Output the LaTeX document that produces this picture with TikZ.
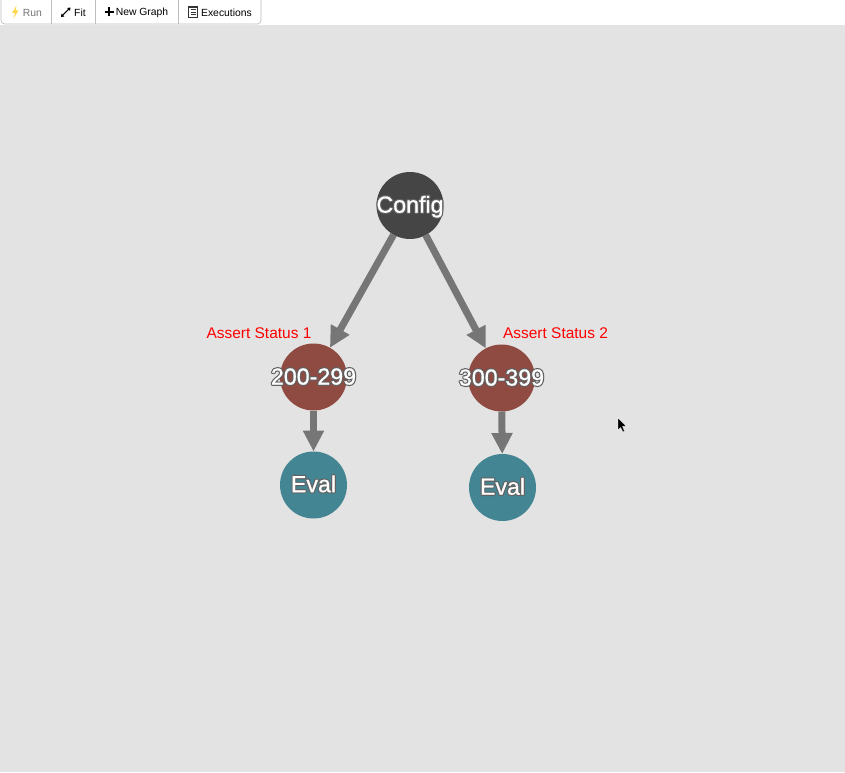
\documentclass[tikz,border=0pt]{standalone}
\usepackage{fontspec}
\setmainfont{Liberation Sans}
\usetikzlibrary{arrows.meta}
\definecolor{bgcol}{HTML}{E3E3E3}
\definecolor{cfgcol}{HTML}{454545}
\definecolor{statcol}{HTML}{8F4A42}
\definecolor{evalcol}{HTML}{438593}
\definecolor{edgecol}{HTML}{767676}
\definecolor{barcol}{HTML}{BDBDBD}
\newcommand{\halo}[1]{\makebox[0pt][c]{\rlap{\special{pdf:code q 1 Tr 1 j 1.5 w 0.38 0.38 0.38 RG}#1\special{pdf:code Q}}\special{pdf:code q 2 Tr 1 j 0.12 w 1 1 1 RG 1 1 1 rg}#1\special{pdf:code Q}}}
\tikzset{
 vertex/.style={circle,minimum size=1.34cm,inner sep=0pt,outer sep=0pt,font=\fontsize{13.2}{15}\selectfont},
 link/.style={draw=edgecol,line width=0.14cm,-{Triangle[length=0.42cm,width=0.4cm]}},
 tag/.style={text=red,font=\fontsize{8.8}{10}\selectfont},
 btn/.style={minimum height=0.46cm,inner sep=0pt,outer sep=0pt,font=\fontsize{5.9}{7}\selectfont}
}
\begin{document}
\begin{tikzpicture}
 \useasboundingbox (0,0) rectangle (16.9,15.44);
 \fill [bgcol] (0,0) rectangle (16.9,15.44);
 \fill [white] (0,14.94) rectangle (16.9,15.44);
 % toolbar
 \node [btn,text=black!55] at (0.65,15.18)(run){Run};
 \node [btn] at (1.6,15.18)(fit){Fit};
 \node [btn] at (2.84,15.18)(newgraph){New Graph};
 \node [btn] at (4.53,15.18)(executions){Executions};
 \coordinate (sep1t) at (1.02,15.44);
 \coordinate (sep1b) at (1.02,14.96);
 \coordinate (sep2t) at (1.9,15.44);
 \coordinate (sep2b) at (1.9,14.96);
 \coordinate (sep3t) at (3.56,15.44);
 \coordinate (sep3b) at (3.56,14.96);
 \draw [barcol,line width=0.4pt,rounded corners=2pt] (0.02,15.5) -- (0.02,14.96) -- (5.22,14.96) -- (5.22,15.5);
 \draw [barcol,line width=0.4pt] (sep1t) -- (sep1b);
 \draw [barcol,line width=0.4pt] (sep2t) -- (sep2b);
 \draw [barcol,line width=0.4pt] (sep3t) -- (sep3b);
 % toolbar icons
 \fill [orange!45!yellow!70!white] (0.33,15.33) -- (0.24,15.18) -- (0.3,15.18) -- (0.27,15.07) -- (0.37,15.23) -- (0.31,15.23) -- cycle;
 \draw [black,line width=0.6pt,{Triangle[length=1.6pt,width=2.2pt]}-{Triangle[length=1.6pt,width=2.2pt]}] (1.22,15.1) -- (1.41,15.29);
 \draw [black,line width=1.1pt] (2.09,15.2) -- (2.27,15.2);
 \draw [black,line width=1.1pt] (2.18,15.11) -- (2.18,15.29);
 \draw [black!80,line width=0.6pt] (3.77,15.09) rectangle (3.95,15.3);
 \draw [black!80,line width=0.5pt] (3.81,15.25) -- (3.91,15.25);
 \draw [black!80,line width=0.5pt] (3.81,15.2) -- (3.91,15.2);
 \draw [black!80,line width=0.5pt] (3.81,15.15) -- (3.91,15.15);
 % graph
 \node [vertex,fill=cfgcol,text depth=1.4pt] at (8.2,11.33)(config){\halo{Config}};
 \node [vertex,fill=statcol,text depth=0.6pt] at (6.27,7.9)(status1){\halo{200-299}};
 \node [vertex,fill=statcol,text depth=0.6pt] at (10.03,7.88)(status2){\halo{300-399}};
 \node [vertex,fill=evalcol,text depth=1.4pt] at (6.27,5.74)(eval1){\halo{Eval}};
 \node [vertex,fill=evalcol,text depth=1.4pt] at (10.05,5.69)(eval2){\halo{Eval}};
 \draw [link] (config) -- (status1);
 \draw [link] (config) -- (status2);
 \draw [link] (status1) -- (eval1);
 \draw [link] (status2) -- (eval2);
 \node [tag] at (5.18,8.78)(tag1){Assert Status 1};
 \node [tag] at (11.11,8.78)(tag2){Assert Status 2};
 % mouse pointer
 \fill [black,draw=white,line width=0.2pt] (12.36,7.08) -- (12.36,6.84) -- (12.41,6.89) -- (12.46,6.8) -- (12.49,6.82) -- (12.45,6.91) -- (12.52,6.92) -- cycle;
\end{tikzpicture}
\end{document}
